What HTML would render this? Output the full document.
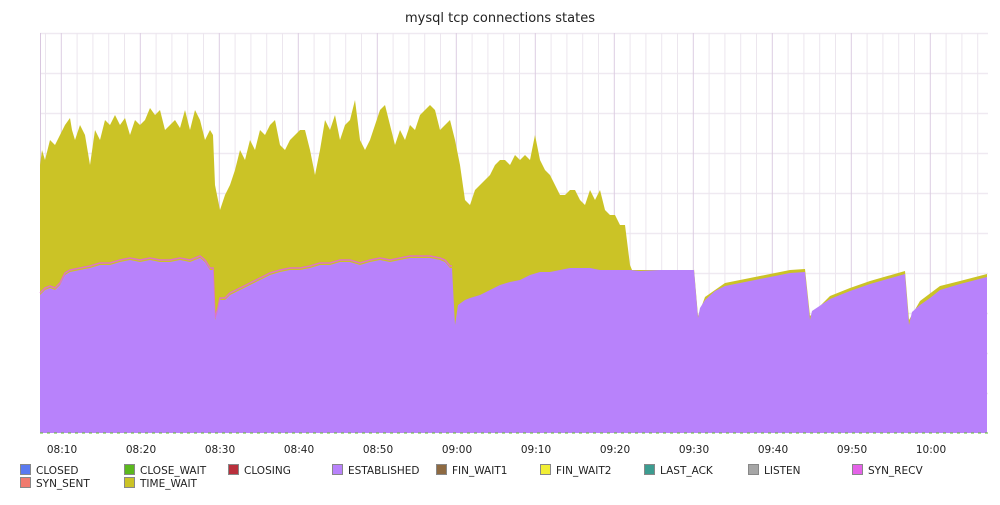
<!DOCTYPE html>
<html><head><style>
body{margin:0;background:#fff;}
svg text{font-family:"DejaVu Sans","Liberation Sans",sans-serif;}
</style></head><body>
<svg width="1000" height="500" xmlns="http://www.w3.org/2000/svg">
<rect width="1000" height="500" fill="#fff"/>
<text x="500" y="22" text-anchor="middle" font-size="13" fill="#222">mysql tcp connections states</text>
<g stroke="#efe9f1" stroke-width="1.5">
<line x1="40" y1="33.5" x2="988" y2="33.5"/><line x1="40" y1="73.5" x2="988" y2="73.5"/><line x1="40" y1="113.5" x2="988" y2="113.5"/><line x1="40" y1="153.5" x2="988" y2="153.5"/><line x1="40" y1="193.5" x2="988" y2="193.5"/><line x1="40" y1="233.5" x2="988" y2="233.5"/><line x1="40" y1="273.5" x2="988" y2="273.5"/><line x1="40" y1="313.5" x2="988" y2="313.5"/><line x1="40" y1="353.5" x2="988" y2="353.5"/><line x1="40" y1="393.5" x2="988" y2="393.5"/>
</g>
<path stroke="#ece6ee" stroke-width="1" d="M45.5 33V433M77.1 33V433M92.9 33V433M108.7 33V433M124.5 33V433M156.1 33V433M171.9 33V433M187.7 33V433M203.5 33V433M235.1 33V433M250.9 33V433M266.7 33V433M282.5 33V433M314.1 33V433M329.9 33V433M345.7 33V433M361.5 33V433M393.1 33V433M408.9 33V433M424.7 33V433M440.5 33V433M472.1 33V433M487.9 33V433M503.7 33V433M519.5 33V433M551.1 33V433M566.9 33V433M582.7 33V433M598.5 33V433M630.1 33V433M645.9 33V433M661.7 33V433M677.5 33V433M709.1 33V433M724.9 33V433M740.7 33V433M756.5 33V433M788.1 33V433M803.9 33V433M819.7 33V433M835.5 33V433M867.1 33V433M882.9 33V433M898.7 33V433M914.5 33V433M946.1 33V433M961.9 33V433M977.7 33V433"/>
<path stroke="#dccde2" stroke-width="1" d="M61.3 33V433M140.3 33V433M219.3 33V433M298.3 33V433M377.3 33V433M456.3 33V433M535.3 33V433M614.3 33V433M693.3 33V433M772.3 33V433M851.3 33V433M930.3 33V433"/>
<line x1="40.5" y1="33" x2="40.5" y2="433" stroke="#d9c7df"/>
<polygon fill="#cbc326" points="40,433 40,165 42,150 45,160 50,140 55,145 60,135 65,125 70,118 72,130 75,140 80,125 85,135 90,165 95,130 100,140 105,120 110,125 115,115 120,125 125,118 130,135 135,120 140,125 145,120 150,108 155,115 160,110 165,130 170,125 175,120 180,128 185,110 190,130 195,110 200,120 205,140 210,130 213,135 215,185 220,210 225,195 230,185 235,170 240,150 245,160 250,140 255,150 260,130 265,135 270,125 275,120 280,145 285,150 290,140 295,135 300,130 305,130 310,150 315,175 320,150 325,120 330,130 335,115 340,140 345,125 350,120 355,100 360,140 365,150 370,140 375,125 380,110 385,105 390,125 395,145 400,130 405,140 410,125 415,130 420,115 425,110 430,105 435,110 440,130 445,125 450,120 455,140 460,165 465,200 470,205 475,190 480,185 485,180 490,175 495,165 500,160 505,160 510,165 515,155 520,160 525,155 530,160 535,135 540,160 545,170 550,175 555,185 560,195 565,195 570,190 575,190 580,200 585,205 590,190 595,200 600,190 605,210 610,215 615,215 620,225 625,225 630,265 632,270 694,270 694,433"/>
<polygon fill="#cbc326" points="694,433 694,269 698,316 705,297 725,283 750,278 790,270 805,269 810,316 830,296 850,288 870,281 905,271 909,320 920,301 940,286 960,281 987,274 987,433"/>
<polyline fill="none" stroke="#e462e8" stroke-width="1.5" opacity="0.8" points="40,293 45,288 50,286 55,288 60,283 65,273 70,270 80,268 90,266 100,263 110,263 120,260 130,258 140,260 150,258 160,260 170,260 180,258 190,260 200,256 205,260 210,268 213,268 215,318 218,308 220,298 225,298 230,293 240,288 250,283 260,278 270,273 280,270 290,268 300,268 310,266 320,263 330,263 340,260 350,260 360,263 370,260 380,258 390,260 400,258 410,256 420,256 430,256 440,258 445,260 450,266 452,266"/>
<polygon fill="#b882fb" points="40,433 40,295 45,290 50,288 55,290 60,285 65,275 70,272 80,270 90,268 100,265 110,265 120,262 130,260 140,262 150,260 160,262 170,262 180,260 190,262 200,258 205,262 210,270 213,270 215,320 218,310 220,300 225,300 230,295 240,290 250,285 260,280 270,275 280,272 290,270 300,270 310,268 320,265 330,265 340,262 350,262 360,265 370,262 380,260 390,262 400,260 410,258 420,258 430,258 440,260 445,262 450,268 452,268 455,325 458,305 465,300 470,298 480,295 490,290 500,285 510,282 520,280 530,275 540,272 550,272 560,270 570,268 580,268 590,268 600,270 620,270 630,270 640,271 660,270 680,270 694,270 698,318 700,308 705,300 715,291 725,286 750,281 790,273 805,272 810,320 812,311 830,299 850,291 870,284 905,274 909,325 912,312 920,305 930,298 940,290 960,284 987,277 987,433"/>
<line x1="40" y1="433" x2="988" y2="433" stroke="#5fbf2a" stroke-width="1" stroke-dasharray="3,4"/>
<g font-size="10.5" fill="#222" text-anchor="middle">
<text x="62" y="453">08:10</text><text x="141" y="453">08:20</text><text x="220" y="453">08:30</text><text x="299" y="453">08:40</text><text x="378" y="453">08:50</text><text x="457" y="453">09:00</text><text x="536" y="453">09:10</text><text x="615" y="453">09:20</text><text x="694" y="453">09:30</text><text x="773" y="453">09:40</text><text x="852" y="453">09:50</text><text x="931" y="453">10:00</text>
</g>
<g font-size="10.5" fill="#222" stroke-width="1">
<rect x="20.5" y="464.5" width="10" height="10" fill="#5a7af0" stroke="#888"/><text x="36" y="474">CLOSED</text>
<rect x="124.5" y="464.5" width="10" height="10" fill="#5bb81e" stroke="#888"/><text x="140" y="474">CLOSE_WAIT</text>
<rect x="228.5" y="464.5" width="10" height="10" fill="#b9303c" stroke="#888"/><text x="244" y="474">CLOSING</text>
<rect x="332.5" y="464.5" width="10" height="10" fill="#b882fb" stroke="#888"/><text x="348" y="474">ESTABLISHED</text>
<rect x="436.5" y="464.5" width="10" height="10" fill="#8e6a42" stroke="#888"/><text x="452" y="474">FIN_WAIT1</text>
<rect x="540.5" y="464.5" width="10" height="10" fill="#f1ee35" stroke="#888"/><text x="556" y="474">FIN_WAIT2</text>
<rect x="644.5" y="464.5" width="10" height="10" fill="#3c9c90" stroke="#888"/><text x="660" y="474">LAST_ACK</text>
<rect x="748.5" y="464.5" width="10" height="10" fill="#a6a6a6" stroke="#888"/><text x="764" y="474">LISTEN</text>
<rect x="852.5" y="464.5" width="10" height="10" fill="#e462e8" stroke="#888"/><text x="868" y="474">SYN_RECV</text>
<rect x="20.5" y="477.5" width="10" height="10" fill="#f07a6e" stroke="#888"/><text x="36" y="487">SYN_SENT</text>
<rect x="124.5" y="477.5" width="10" height="10" fill="#cbc326" stroke="#888"/><text x="140" y="487">TIME_WAIT</text>
</g>
</svg>
</body></html>
